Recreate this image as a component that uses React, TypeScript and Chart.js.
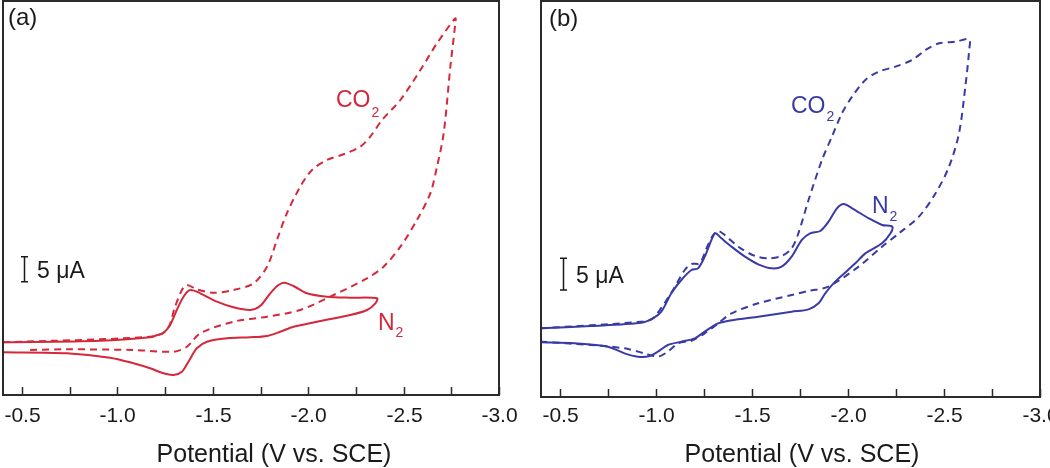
import React, { useEffect, useRef } from "react";
import { Chart, registerables } from "chart.js";

Chart.register(...registerables);

const FONT = "'Liberation Sans', Arial, Helvetica, sans-serif";
const TEXT = "#1a1a1a";
const FRAME = "#2b2b2b";
const RED = "#d4283b";
const BLUE = "#3a3aa6";

// x-axis ticks (V vs. SCE); labels every 0.5 V
const tickPotentials = [-0.5, -0.75, -1.0, -1.25, -1.5, -1.75, -2.0, -2.25, -2.5, -2.75, -3.0];
const axisTitle = "Potential (V vs. SCE)";
const scaleBarLabel = "5 μA";

// ---- Panel (a): red ----
const aN2Potential = [
  -0.4, -0.909, -1.171, -1.206, -1.239, -1.276, -1.311, -1.346, -1.381, -1.434, -1.521, -1.608, -1.696,
  -1.748, -1.801, -1.844, -1.874, -1.923, -1.993, -2.098, -2.221, -2.361,
  -2.352, -2.308, -2.221, -2.046, -1.923, -1.853, -1.784, -1.696, -1.574, -1.469, -1.416, -1.372, -1.338,
  -1.294, -1.241, -1.171, -1.084, -0.961, -0.734, -0.4,
];
const aN2Current = [
  1.54, 1.86, 2.54, 2.94, 3.34, 5.0, 8.0, 10.66, 12.0, 11.34, 9.66, 8.54, 8.0,
  8.8, 11.34, 13.0, 13.46, 12.8, 11.34, 10.66, 10.46, 10.34,
  9.34, 8.0, 7.0, 5.66, 4.66, 3.66, 2.8, 2.54, 2.34, 1.66, 0.34, -2.34, -4.34,
  -5.0, -4.66, -3.66, -2.66, -1.54, -0.66, -0.46,
];
const aCO2Potential = [
  -0.4, -1.171, -1.259, -1.302, -1.338, -1.364, -1.416, -1.503, -1.608, -1.713, -1.784, -1.836, -1.888,
  -1.958, -2.02, -2.098, -2.185, -2.273, -2.325, -2.387, -2.483, -2.588, -2.675, -2.771,
  -2.771, -2.745, -2.71, -2.675, -2.64, -2.57, -2.483, -2.395, -2.308, -2.133, -1.958, -1.784, -1.608,
  -1.434, -1.364, -1.294, -1.084, -0.734, -0.542,
];
const aCO2Current = [
  1.54, 2.66, 4.0, 8.66, 12.0, 13.0, 12.14, 11.46, 12.0, 13.34, 16.66, 22.0, 27.34,
  32.66, 36.0, 38.0, 39.14, 40.66, 42.66, 46.0, 50.0, 56.0, 61.34, 66.34,
  65.34, 56.66, 43.34, 36.66, 31.34, 26.0, 20.66, 16.66, 14.34, 11.0, 8.0, 6.66, 5.66,
  3.34, 0.66, -0.34, 0.0, 0.14, 0.0,
];

// ---- Panel (b): blue ----
const bN2Potential = [
  -0.399, -0.66, -0.922, -0.983, -1.027, -1.079, -1.131, -1.184, -1.218, -1.253, -1.288, -1.309, -1.34,
  -1.393, -1.463, -1.532, -1.602, -1.654, -1.706, -1.759, -1.802, -1.855, -1.898, -1.942, -1.977, -2.021,
  -2.108, -2.177, -2.23,
  -2.221, -2.177, -2.09, -2.038, -1.933, -1.881, -1.846, -1.794, -1.706, -1.532, -1.428, -1.323, -1.253,
  -1.201, -1.131, -1.061, -1.009, -0.966, -0.905, -0.835, -0.748, -0.573, -0.399,
];
const bN2Current = [
  0, 0.37, 0.89, 1.58, 2.63, 5.53, 7.63, 9.21, 9.47, 11.32, 13.95, 15.0, 14.21,
  12.89, 11.32, 10.11, 9.47, 9.74, 11.32, 13.95, 15.0, 15.37, 16.84, 18.95, 19.63, 18.95,
  17.37, 16.32, 16.05,
  15.0, 13.42, 11.84, 10.26, 7.37, 5.53, 3.95, 3.0, 2.63, 1.84, 1.42, 0.79, -0.53,
  -1.58, -2.11, -2.63, -3.68, -4.37, -4.47, -3.95, -2.89, -2.37, -2.21,
];
const bCO2Potential = [
  -0.399, -0.922, -0.983, -1.079, -1.149, -1.184, -1.227, -1.262, -1.297, -1.323, -1.358, -1.428, -1.515,
  -1.585, -1.654, -1.706, -1.741, -1.794, -1.864, -1.916, -1.968, -2.021, -2.09, -2.16, -2.247, -2.334,
  -2.404, -2.474, -2.561, -2.631,
  -2.631, -2.613, -2.578, -2.526, -2.456, -2.369, -2.265, -2.177, -2.055, -1.897, -1.794, -1.707, -1.532,
  -1.393, -1.323, -1.253, -1.184, -1.114, -1.061, -1.009, -0.939, -0.835, -0.66, -0.399,
];
const bCO2Current = [
  0, 1.05, 1.58, 5.63, 9.21, 10.16, 10.26, 12.63, 14.74, 15.37, 14.74, 12.89, 11.42,
  11.05, 11.42, 12.63, 15.0, 20.26, 26.58, 30.26, 33.95, 36.58, 39.21, 40.53, 41.32, 42.37,
  43.95, 45.0, 45.26, 45.63,
  43.95, 38.68, 30.79, 25.53, 21.32, 17.63, 15.0, 12.89, 9.74, 6.58, 5.9, 5.26, 3.95,
  2.37, 0.79, -0.79, -1.95, -2.37, -3.68, -4.47, -3.95, -3.16, -2.63, -2.11,
];

const toPoints = (xs: number[], ys: number[]) => xs.map((x, i) => ({ x, y: ys[i] }));

const tickLabel = (n: number) =>
  Math.abs(n * 2 - Math.round(n * 2)) < 1e-6 ? n.toFixed(1) : "";

const decorPlugin = {
  id: "decor",
  afterDraw(chart: any, _args: any, o: any) {
    const { ctx, chartArea: ca, scales } = chart;
    const xs = scales.x;
    const ys = scales.y;
    ctx.save();
    // frame
    ctx.strokeStyle = FRAME;
    ctx.lineWidth = 2;
    ctx.setLineDash([]);
    ctx.strokeRect(ca.left, ca.top, ca.right - ca.left, ca.bottom - ca.top);
    // inward ticks + labels
    ctx.lineWidth = 1.5;
    ctx.fillStyle = TEXT;
    ctx.font = `21px ${FONT}`;
    ctx.textAlign = "center";
    ctx.textBaseline = "alphabetic";
    for (const v of xs.ticks.map((t: any) => t.value)) {
      const px = Math.round(xs.getPixelForValue(v)) + 0.5;
      ctx.beginPath();
      ctx.moveTo(px, ca.bottom);
      ctx.lineTo(px, ca.bottom - 8);
      ctx.stroke();
      const lab = tickLabel(v);
      if (lab) ctx.fillText(lab, px, o.tickBaseline);
    }
    // axis title
    ctx.font = `25px ${FONT}`;
    ctx.fillText(axisTitle, o.titleX, o.titleY);
    // panel tag
    ctx.textAlign = "left";
    ctx.font = `24px ${FONT}`;
    ctx.fillText(o.tag, o.tagX, o.tagY);
    // scale bar (5 μA in data units)
    const sx = Math.round(xs.getPixelForValue(o.sbPotential)) + 0.5;
    const sb = ys.getPixelForValue(o.sbCurrent);
    const st = ys.getPixelForValue(o.sbCurrent + 5);
    ctx.strokeStyle = TEXT;
    ctx.lineWidth = 1.5;
    ctx.beginPath();
    ctx.moveTo(sx, sb);
    ctx.lineTo(sx, st);
    ctx.moveTo(sx - 3.5, sb);
    ctx.lineTo(sx + 3.5, sb);
    ctx.moveTo(sx - 3.5, st);
    ctx.lineTo(sx + 3.5, st);
    ctx.stroke();
    ctx.font = `23px ${FONT}`;
    ctx.fillText(scaleBarLabel, o.sbTextX, o.sbTextY);
    // gas labels
    const drawSub = (base: string, sub: string, x: number, y: number, subY: number) => {
      ctx.fillStyle = o.color;
      ctx.font = `23px ${FONT}`;
      ctx.fillText(base, x, y);
      const w = ctx.measureText(base).width;
      ctx.font = `14px ${FONT}`;
      ctx.fillText(sub, x + w + 1, subY);
    };
    drawSub("CO", "2", o.co2X, o.co2Y, o.co2SubY);
    drawSub("N", "2", o.n2X, o.n2Y, o.n2SubY);
    ctx.restore();
  },
};

type PanelCfg = {
  color: string;
  n2: { x: number; y: number }[];
  co2: { x: number; y: number }[];
  yMin: number;
  yMax: number;
  padding: { left: number; right: number; top: number; bottom: number };
  axisHeight: number;
  decor: any;
};

function buildConfig(p: PanelCfg): any {
  return {
    type: "line",
    data: {
      datasets: [
        {
          label: "CO2",
          data: p.co2,
          borderColor: p.color,
          borderWidth: 2,
          borderDash: [7, 5],
          pointRadius: 0,
          fill: false,
          tension: 0.3,
        },
        {
          label: "N2",
          data: p.n2,
          borderColor: p.color,
          borderWidth: 2,
          pointRadius: 0,
          fill: false,
          tension: 0.3,
        },
      ],
    },
    options: {
      responsive: false,
      animation: false,
      devicePixelRatio: 1,
      layout: { padding: p.padding },
      plugins: {
        legend: { display: false },
        tooltip: { enabled: false },
        decor: p.decor,
      },
      scales: {
        x: {
          type: "linear",
          reverse: true,
          min: -3.0,
          max: -0.4,
          grid: { display: false, drawTicks: false },
          border: { display: false },
          afterBuildTicks: (s: any) => {
            s.ticks = tickPotentials.map((v) => ({ value: v }));
          },
          afterFit: (s: any) => {
            s.height = p.axisHeight;
            s.paddingLeft = 0;
            s.paddingRight = 0;
          },
          ticks: { display: false },
          title: { display: false },
        },
        y: {
          type: "linear",
          display: false,
          min: p.yMin,
          max: p.yMax,
        },
      },
    },
    plugins: [decorPlugin],
  };
}

const panelA: PanelCfg = {
  color: RED,
  n2: toPoints(aN2Potential, aN2Current),
  co2: toPoints(aCO2Potential, aCO2Current),
  yMin: -9,
  yMax: 69.8,
  padding: { left: 3, right: 26, top: 1, bottom: 0 },
  axisHeight: 73,
  decor: {
    color: RED,
    tickBaseline: 422,
    titleX: 274,
    titleY: 462,
    tag: "(a)",
    tagX: 8,
    tagY: 25,
    sbPotential: -0.509,
    sbCurrent: 13.66,
    sbTextX: 37,
    sbTextY: 278,
    co2X: 336,
    co2Y: 107,
    co2SubY: 117,
    n2X: 378,
    n2Y: 330,
    n2SubY: 337,
  },
};

const panelB: PanelCfg = {
  color: BLUE,
  n2: toPoints(bN2Potential, bN2Current),
  co2: toPoints(bCO2Potential, bCO2Current),
  yMin: -10.84,
  yMax: 51.68,
  padding: { left: 16, right: 10, top: 1, bottom: 0 },
  axisHeight: 71,
  decor: {
    color: BLUE,
    tickBaseline: 422,
    titleX: 277,
    titleY: 462,
    tag: "(b)",
    tagX: 24,
    tagY: 25.5,
    sbPotential: -0.517,
    sbCurrent: 6.05,
    sbTextX: 51,
    sbTextY: 283,
    co2X: 266,
    co2Y: 113,
    co2SubY: 121,
    n2X: 347,
    n2Y: 213,
    n2SubY: 221,
  },
};

function Panel({ cfg, left }: { cfg: PanelCfg; left: number }) {
  const ref = useRef<HTMLCanvasElement | null>(null);
  useEffect(() => {
    if (!ref.current) return;
    const chart = new Chart(ref.current, buildConfig(cfg));
    return () => chart.destroy();
  }, [cfg]);
  return (
    <canvas
      ref={ref}
      width={525}
      height={468}
      style={{ position: "absolute", left, top: 0, width: 525, height: 468 }}
    />
  );
}

export default function App() {
  return (
    <div
      style={{
        position: "fixed",
        left: 0,
        top: 0,
        width: 1050,
        height: 468,
        background: "#ffffff",
        overflow: "hidden",
      }}
    >
      <Panel cfg={panelA} left={0} />
      <Panel cfg={panelB} left={525} />
    </div>
  );
}
